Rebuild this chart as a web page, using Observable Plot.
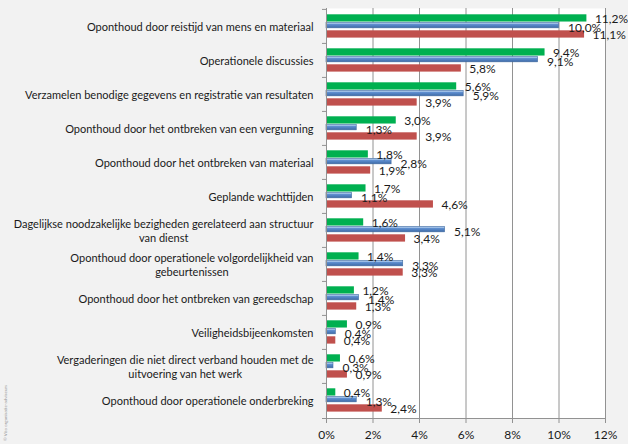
<!DOCTYPE html>
<html>
<head>
<meta charset="utf-8">
<script src="https://cdn.jsdelivr.net/npm/d3@7"></script>
<script src="https://cdn.jsdelivr.net/npm/@observablehq/plot@0.6"></script>
<style>
html, body { margin: 0; padding: 0; background: #f2f2f2; }
#wrap { position: relative; width: 628px; height: 444px; overflow: hidden; font-family: Lato, "Open Sans", sans-serif; }
#credit { position: absolute; left: 3px; top: 441px; transform: rotate(-90deg); transform-origin: 0 0; font-size: 4.5px; color: #9a9a9a; white-space: nowrap; }
</style>
</head>
<body>
<div id="wrap"><div id="chart"></div><div id="credit">© Vito organisatie-adviseurs</div></div>
<script>
const categories = [
  "Oponthoud door reistijd van mens en materiaal",
  "Operationele discussies",
  "Verzamelen benodige gegevens en registratie van resultaten",
  "Oponthoud door het ontbreken van een vergunning",
  "Oponthoud door het ontbreken van materiaal",
  "Geplande wachttijden",
  "Dagelijkse noodzakelijke bezigheden gerelateerd aan structuur\nvan dienst",
  "Oponthoud door operationele volgordelijkheid van\ngebeurtenissen",
  "Oponthoud door het ontbreken van gereedschap",
  "Veiligheidsbijeenkomsten",
  "Vergaderingen die niet direct verband houden met de\nuitvoering van het werk",
  "Oponthoud door operationele onderbreking"
];
const seriesNames = ["Reeks 1", "Reeks 2", "Reeks 3"];
const greenValues = [11.2, 9.4, 5.6, 3.0, 1.8, 1.7, 1.6, 1.4, 1.2, 0.9, 0.6, 0.4];
const blueValues  = [10.0, 9.1, 5.9, 1.3, 2.8, 1.1, 5.1, 3.3, 1.4, 0.4, 0.3, 1.3];
const redValues   = [11.1, 5.8, 3.9, 3.9, 1.9, 4.6, 3.4, 3.3, 1.3, 0.4, 0.9, 2.4];
const xTicks = [0, 2, 4, 6, 8, 10, 12];

const rows = (vals, s) => categories.map((c, i) => ({cat: c, series: s, value: vals[i]}));
const greenData = rows(greenValues, seriesNames[0]);
const blueData = rows(blueValues, seriesNames[1]);
const redData = rows(redValues, seriesNames[2]);

const fmt = d => d3.format(".1f")(d).replace(".", ",") + "%";
const gray = "#929292";
const H = 444, MT = 8, MB = 26;
const bw = (H - MT - MB) / categories.length;

const chart = Plot.plot({
  width: 628,
  height: H,
  marginLeft: 326,
  marginRight: 23,
  marginTop: MT,
  marginBottom: MB,
  style: {background: "transparent", fontFamily: "Lato, 'Open Sans', sans-serif", color: "#1a1a1a"},
  x: {domain: [0, 12], label: null},
  y: {domain: categories, padding: 0, label: null},
  marks: [
    Plot.frame({fill: "white", stroke: null}),
    Plot.gridX(xTicks.slice(1), {stroke: gray, strokeOpacity: 1}),
    Plot.barX(greenData, {x: "value", y: "cat", fill: "#00b050", insetTop: 5.3, insetBottom: bw - 12.7}),
    Plot.barX(blueData, {x: "value", y: "cat", fill: "url(#blueGrad)", stroke: "#3f6aa0", strokeWidth: 0.6, insetTop: 13.3, insetBottom: bw - 19}),
    Plot.barX(redData, {x: "value", y: "cat", fill: "#c0504d", insetTop: 21.3, insetBottom: 5.4}),
    Plot.text(greenData, {x: "value", y: "cat", text: d => fmt(d.value), textAnchor: "start", dx: 8, dy: -7, fontSize: 12, fill: "#1a1a1a"}),
    Plot.text(blueData, {x: "value", y: "cat", text: d => fmt(d.value), textAnchor: "start", dx: 9, dy: 1.5, fontSize: 12, fill: "#1a1a1a"}),
    Plot.text(redData, {x: "value", y: "cat", text: d => fmt(d.value), textAnchor: "start", dx: 8, dy: 8.5, fontSize: 12, fill: "#1a1a1a"}),
    Plot.frame({anchor: "left", stroke: gray}),
    Plot.frame({anchor: "bottom", stroke: gray, insetLeft: -4}),
    Plot.axisY({tickSize: 4, tickFormat: () => "", stroke: gray, dy: -bw / 2, label: null}),
    Plot.axisY({tickSize: 0, tickPadding: 13, fontSize: 11, lineHeight: 1.27, fill: "#1a1a1a", label: null}),
    Plot.axisX({ticks: xTicks, tickFormat: d => d + "%", tickSize: 5, tickPadding: 7, fontSize: 12, stroke: gray, fill: "#1a1a1a", label: null})
  ]
});

// gradient for the bevelled blue bars
const defs = document.createElementNS("http://www.w3.org/2000/svg", "defs");
defs.innerHTML = `<linearGradient id="blueGrad" x1="0" y1="0" x2="0" y2="1">
  <stop offset="0" stop-color="#c5d9f1"/>
  <stop offset="0.3" stop-color="#8db3e2"/>
  <stop offset="0.38" stop-color="#5f8fd0"/>
  <stop offset="1" stop-color="#3d6aa6"/>
</linearGradient>`;
chart.insertBefore(defs, chart.firstChild);
document.getElementById("chart").append(chart);

// centre the second line of wrapped category labels under the first line
chart.querySelectorAll("text").forEach(t => {
  const sp = t.querySelectorAll("tspan");
  if (sp.length === 2) {
    const len = sp[0].getComputedTextLength();
    const x0 = parseFloat(sp[0].getAttribute("x")) || 0;
    sp[1].setAttribute("x", x0 - len / 2);
    sp[1].setAttribute("text-anchor", "middle");
  }
});
</script>
</body>
</html>
